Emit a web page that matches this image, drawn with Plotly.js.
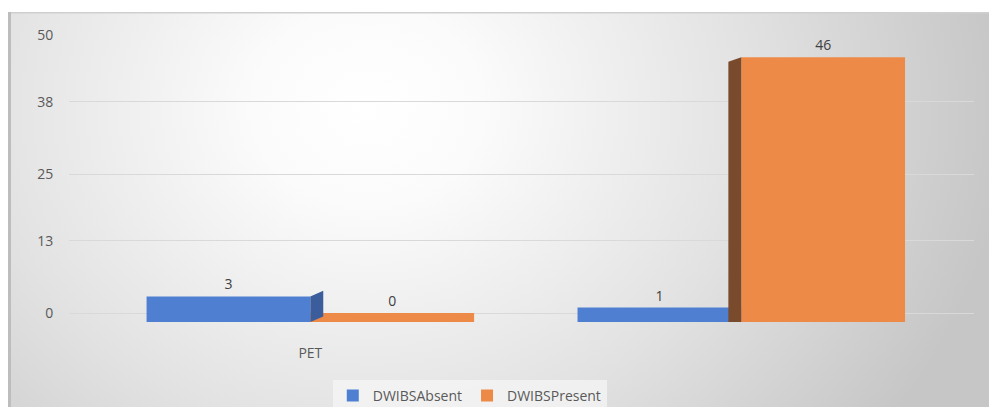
<!DOCTYPE html>
<html>
<head>
<meta charset="utf-8">
<script src="https://cdn.plot.ly/plotly-3.0.1.min.js"></script>
<style>
  html, body { margin: 0; padding: 0; background: #ffffff; }
  #chart { width: 989px; height: 407px; }
</style>
</head>
<body>
<div id="chart"></div>
<script>
// Counts per group, one value per series
const categories = ["PET", " "];
const seriesNames = ["DWIBSAbsent", "DWIBSPresent"];
const absentValues = [3, 1];
const presentValues = [0, 46];
const yTickValues = [0, 13, 25, 38, 50];
const yTickLabels = ["0", "13", "25", "38", "50"];

const W = 989, H = 407;
const M = { l: 69, r: 15, t: 35, b: 85, autoexpand: false };
const plotW = W - M.l - M.r, plotH = H - M.t - M.b;

// Bars stand on a thin floor slab below zero, like a 3-D column chart
const floorBase = -1.6;
const bargap = 0.24;

// Soft radial backdrop behind the whole chart area
const bgSvg =
  '<svg xmlns="http://www.w3.org/2000/svg" width="981" height="395" viewBox="0 0 981 395">' +
  '<defs><radialGradient id="g" gradientUnits="userSpaceOnUse" cx="360" cy="95" r="640" ' +
  'gradientTransform="translate(360 95) scale(1 0.85) translate(-360 -95)">' +
  '<stop offset="0" stop-color="#ffffff"/>' +
  '<stop offset="0.18" stop-color="#fbfbfb"/>' +
  '<stop offset="0.6" stop-color="#e2e2e2"/>' +
  '<stop offset="1" stop-color="#c6c6c6"/>' +
  '</radialGradient></defs>' +
  '<rect x="0" y="0" width="981" height="395" fill="url(#g)"/>' +
  '<rect x="0" y="0" width="981" height="1.5" fill="#cfcfcf"/>' +
  '<rect x="0" y="0" width="3" height="395" fill="#bdbdbd"/>' +
  '</svg>';
const bgUri = 'data:image/svg+xml;base64,' + btoa(bgSvg);

const frameX0 = 8, frameY0 = 12;

const labelFont = { family: "'Open Sans', 'DejaVu Sans', sans-serif", size: 14, color: "#404040" };

function barTrace(name, values, color) {
  return {
    type: "bar",
    name: name,
    x: categories,
    y: values.map(v => v - floorBase),
    base: floorBase,
    marker: { color: color },
    text: values.map(String),
    textposition: "outside",
    textfont: labelFont,
    cliponaxis: false,
    hoverinfo: "skip"
  };
}

const traces = [
  barTrace(seriesNames[0], absentValues, "#4f7fd1"),
  barTrace(seriesNames[1], presentValues, "#ee8a48")
];

// Shaded side faces give the columns their depth
const depthX = 0.03, depthY = 1.0;
function sidePath(xEdge, dir, top) {
  const xs = xEdge + dir * depthX;
  return `M ${xEdge},${floorBase} L ${xEdge},${top} L ${xs},${top + (dir > 0 ? depthY : -depthY * 0.8)} L ${xs},${floorBase + (dir > 0 ? depthY : 0)} Z`;
}
const shapes = [];
categories.forEach((c, i) => {
  // left-hand group: face on the right of the first column
  if (i === 0 && absentValues[i] > 0) {
    shapes.push({
      type: "path", xref: "x", yref: "y", layer: "above",
      path: sidePath(i, +1, absentValues[i]),
      fillcolor: "#3b5d9c", line: { width: 0 }
    });
  }
  // right-hand group: face on the left of the second column
  if (i === 1 && presentValues[i] > 0) {
    shapes.push({
      type: "path", xref: "x", yref: "y", layer: "above",
      path: sidePath(i, -1, presentValues[i]),
      fillcolor: "#7a4a2c", line: { width: 0 }
    });
  }
});

const layout = {
  width: W,
  height: H,
  margin: M,
  paper_bgcolor: "#ffffff",
  plot_bgcolor: "rgba(0,0,0,0)",
  font: { family: "'Open Sans', 'DejaVu Sans', sans-serif", size: 14, color: "#595959" },
  barmode: "group",
  bargap: bargap,
  bargroupgap: 0,
  showlegend: true,
  legend: {
    orientation: "h",
    xref: "container", yref: "container",
    x: 0.475, xanchor: "center",
    y: 1 - 396 / H,
    yanchor: "middle",
    bgcolor: "rgba(246,246,246,0.7)",
    font: { size: 14, color: "#595959" },
    itemwidth: 30,
    traceorder: "normal"
  },
  xaxis: {
    type: "category",
    range: [-0.56, 1.54],
    showgrid: false,
    zeroline: false,
    showline: false,
    ticks: "outside",
    ticklen: 18,
    tickcolor: "rgba(0,0,0,0)",
    tickfont: { size: 14, color: "#595959" },
    fixedrange: true
  },
  yaxis: {
    range: [floorBase, 50],
    tickmode: "array",
    tickvals: yTickValues,
    ticktext: yTickLabels,
    showgrid: true,
    gridcolor: "#d9d9d9",
    gridwidth: 1,
    zeroline: false,
    showline: false,
    ticks: "outside",
    ticklen: 12,
    tickcolor: "rgba(0,0,0,0)",
    tickfont: { size: 14, color: "#595959" },
    fixedrange: true
  },
  shapes: shapes,
  images: [{
    source: bgUri,
    xref: "paper", yref: "paper",
    x: (frameX0 - M.l) / plotW,
    y: (H - M.b - frameY0) / plotH,
    sizex: (W - frameX0) / plotW,
    sizey: (H - frameY0) / plotH,
    sizing: "stretch",
    xanchor: "left", yanchor: "top",
    layer: "below"
  }]
};

Plotly.newPlot("chart", traces, layout, { displayModeBar: false, staticPlot: true });
</script>
</body>
</html>
